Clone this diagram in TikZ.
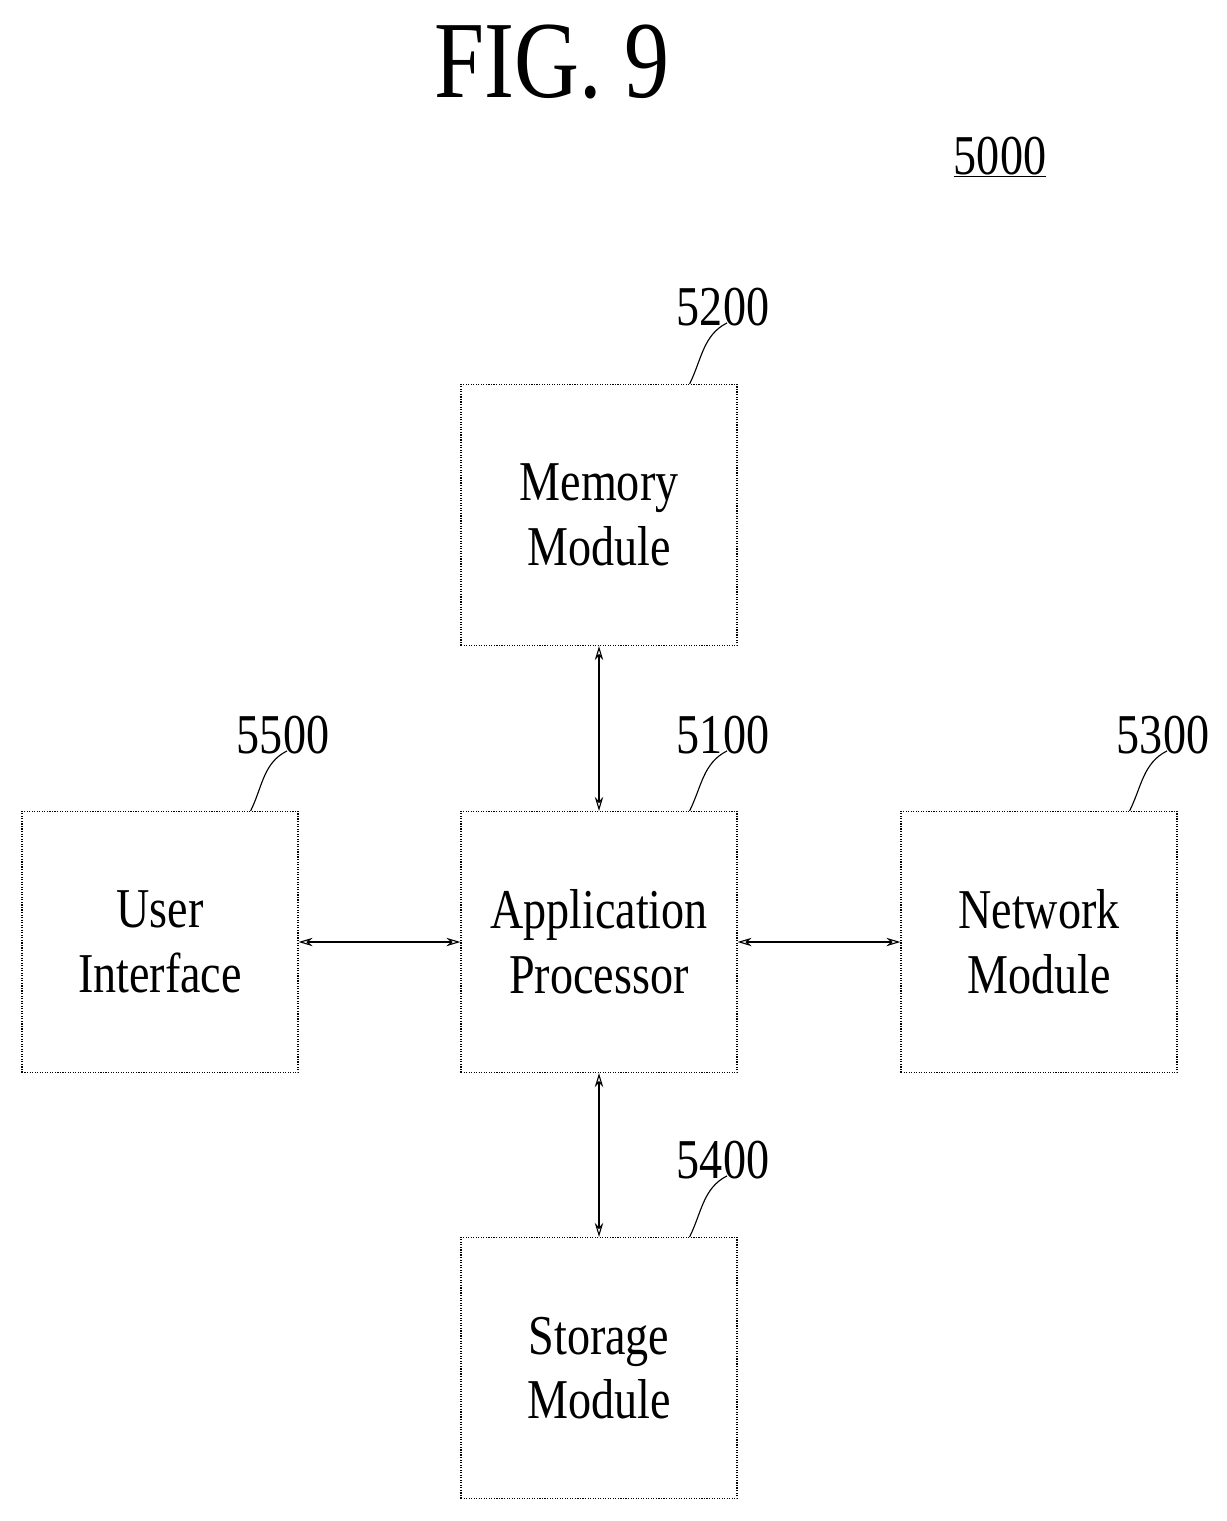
\documentclass[tikz,border=0pt]{standalone}
\usepackage{fontspec}
\setmainfont{Liberation Serif}[FakeStretch=0.82]
\usetikzlibrary{arrows.meta}
\begin{document}
\begin{tikzpicture}
[
x=0.025cm, y=-0.025cm,
block/.style={draw=black,thick,densely dotted,minimum width=6.9cm,minimum height=6.525cm,
align=center,inner sep=0pt,font=\fontsize{40}{46}\selectfont},
num/.style={font=\fontsize{40}{46}\selectfont},
link/.style={thick,{Stealth[open,length=10pt,width=6pt]}-{Stealth[open,length=10pt,width=6pt]}},
lead/.style={thick}
]
\useasboundingbox (0,0) rectangle (1227,1521);
\node[font=\fontsize{78}{80}\selectfont] (fig) at (552,62) {FIG. 9};
\node[num] (sys) at (1000,157) {\underline{5000}};

\node[block] (mem) at (599,515) {Memory\\Module};
\node[block] (ap) at (599,942) {Application\\Processor};
\node[block] (ui) at (160,942) {User\\Interface};
\node[block] (net) at (1039,942) {Network\\Module};
\node[block] (sto) at (599,1368) {Storage\\Module};

\node[num] (n5200) at (723,307) {5200};
\node[num] (n5100) at (723,735) {5100};
\node[num] (n5500) at (283,735) {5500};
\node[num] (n5300) at (1163,735) {5300};
\node[num] (n5400) at (723,1160) {5400};

\foreach \b/\n in {mem/n5200,ap/n5100,ui/n5500,net/n5300,sto/n5400}{
  \coordinate (s) at ([xshift=-1.2cm]\b.north east);
  \draw[lead] (s) .. controls +(0.3cm,0.6cm) and +(-0.6cm,-0.3cm) .. ([xshift=0.1cm,yshift=0.2cm]\n.south);
}

\draw[link] (mem) -- (ap);
\draw[link] (ap) -- (sto);
\draw[link] (ui) -- (ap);
\draw[link] (ap) -- (net);
\end{tikzpicture}
\end{document}
